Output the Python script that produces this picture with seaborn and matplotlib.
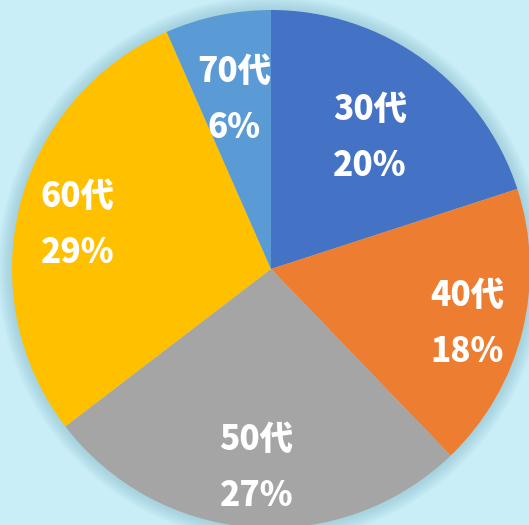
import matplotlib
matplotlib.use("Agg")
import matplotlib.pyplot as plt
import seaborn as sns
import numpy as np

sns.set_theme(style="white")
plt.rcParams['font.family'] = ['Noto Sans CJK JP', 'DejaVu Sans']

categories = ["30代", "40代", "50代", "60代", "70代"]
values = [20.0, 17.8, 26.8, 28.8, 6.6]
pct_labels = ["20%", "18%", "27%", "29%", "6%"]
colors = ["#4472C4", "#ED7D31", "#A5A5A5", "#FFC000", "#5B9BD5"]
label_r = [0.65, 0.78, 0.75, 0.77, 0.69]

W, H = 529, 525
fig = plt.figure(figsize=(W / 100, H / 100), dpi=100)
fig.patch.set_facecolor("#C9EEF8")
ax = fig.add_axes([0, 0, 1, 1])
ax.set_facecolor("#C9EEF8")

cx, cy, R = 271, 269, 259

# soft shadow
for k in range(14, 0, -1):
    ax.add_patch(plt.Circle((cx, cy), R + k, color="#8fc3d0", alpha=0.05, lw=0, zorder=0))

# y axis is inverted below, so counterclockwise in data = clockwise on screen
wedges, _ = ax.pie(values, colors=colors, startangle=-90, counterclock=True,
                   center=(cx, cy), radius=R, frame=True,
                   wedgeprops=dict(linewidth=0))
ax.set_xlim(0, W)
ax.set_ylim(H, 0)
ax.set_aspect("equal")
ax.axis("off")

for w, cat, pct, lr in zip(wedges, categories, pct_labels, label_r):
    mid = np.deg2rad((w.theta1 + w.theta2) / 2)
    x = cx + lr * R * np.cos(mid)
    y = cy + lr * R * np.sin(mid) + 4
    ax.text(x, y - 27, cat, ha="center", va="center", color="white",
            fontsize=24, fontweight="heavy")
    ax.text(x, y + 29, pct, ha="center", va="center", color="white",
            fontsize=24, fontweight="heavy")

fig.savefig("out.png", dpi=100, facecolor=fig.get_facecolor())
